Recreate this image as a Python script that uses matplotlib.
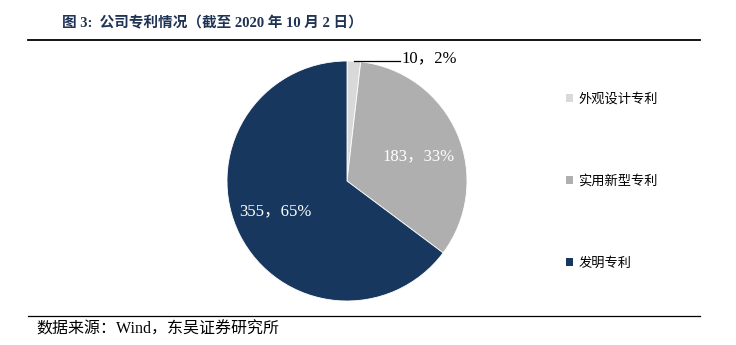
import matplotlib.pyplot as plt
import numpy as np
from matplotlib.lines import Line2D
from matplotlib.patches import Patch

plt.rcParams['font.family'] = ['Liberation Serif', 'Noto Sans CJK SC']

categories = ["外观设计专利", "实用新型专利", "发明专利"]
counts = [10, 183, 355]
colors = ["#d9d9d9", "#afafaf", "#17375e"]

fig = plt.figure(figsize=(7.36, 3.45), dpi=100)
W, H = 736, 345

# header / footer rules
fig.add_artist(Line2D([28 / W, 700 / W], [1 - 40 / H, 1 - 40 / H], color="black", lw=1.3))
fig.add_artist(Line2D([28 / W, 700 / W], [1 - 316 / H, 1 - 316 / H], color="black", lw=0.9))
fig.text(62 / W, 1 - 23 / H, "图 3:  公司专利情况（截至 2020 年 10 月 2 日）", fontsize=10.5,
         fontweight="bold", color="#1f3354", va="center", ha="left")
fig.text(36 / W, 1 - 330 / H, "数据来源：Wind，东吴证券研究所", fontsize=11.5,
         color="black", va="center", ha="left")

ax = fig.add_axes([227 / W, 44 / H, 240 / W, 240 / H])
wedges, _ = ax.pie(counts, colors=colors, startangle=90, counterclock=False,
                   radius=1.0, wedgeprops=dict(linewidth=0.6, edgecolor="white"))
ax.set_xlim(-1, 1)
ax.set_ylim(-1, 1)
ax.set_aspect("equal")
ax.axis("off")

total = sum(counts)
pcts = [round(c / total * 100) for c in counts]

# big slices: labels inside in white
for w, c, p, r in zip(wedges[1:], counts[1:], pcts[1:], [0.63, 0.65]):
    ang = np.deg2rad((w.theta1 + w.theta2) / 2 - 4)
    ax.text(r * np.cos(ang), r * np.sin(ang), f"{c}，{p}%", color="white",
            fontsize=12, ha="center", va="center")

# small slice: leader line to the right
w0 = wedges[0]
ang0 = np.deg2rad((w0.theta1 + w0.theta2) / 2)
x0, y0 = np.cos(ang0), np.sin(ang0)
ax.plot([x0, 0.44], [y0, y0], color="black", lw=0.9, clip_on=False)
ax.text(0.45, 1.02, f"{counts[0]}，{pcts[0]}%", fontsize=12, ha="left", va="center",
        clip_on=False)

handles = [Patch(facecolor=col, edgecolor="none") for col in colors]
fig.legend(handles, categories, loc="upper left", bbox_to_anchor=(554 / W, 1 - 81 / H),
           frameon=False, handlelength=0.55, handleheight=0.55,
           handletextpad=0.4, labelspacing=5.22,
           prop={"family": ["Noto Sans CJK SC"], "size": 9.5})

fig.savefig("out.png", dpi=100)
